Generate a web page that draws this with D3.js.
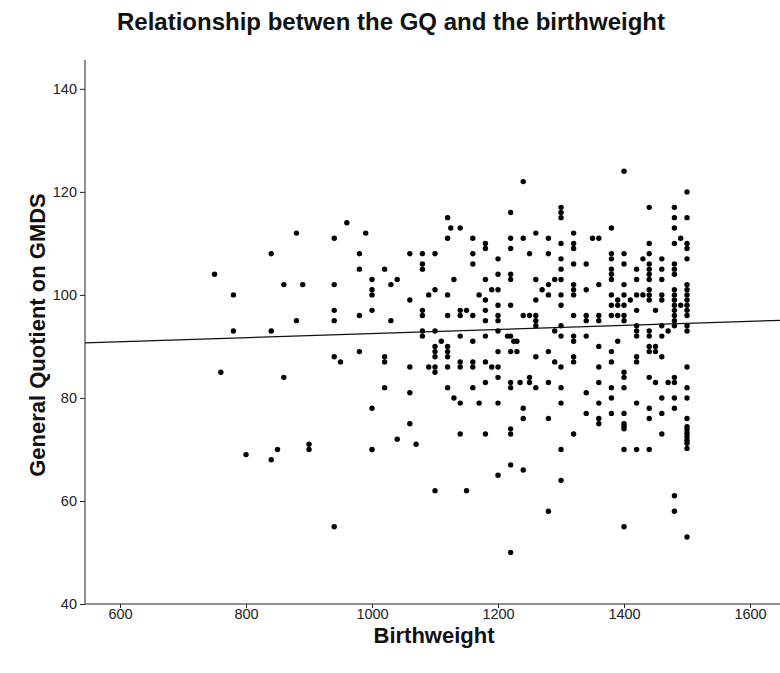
<!DOCTYPE html>
<html>
<head>
<meta charset="utf-8">
<script src="https://cdn.jsdelivr.net/npm/d3@7"></script>
<style>
  html, body { margin: 0; padding: 0; background: #fff; }
  svg { display: block; }
  text { font-family: Arial, "Liberation Sans", sans-serif; }
</style>
</head>
<body>
<svg id="chart" width="780" height="673"></svg>
<script>
// Birthweight (g) of each child
const birthweight = [
  880, 840, 750, 860, 890,
  780, 780, 840, 880, 760, 860,
  800, 840, 850, 900, 900,
  1060, 1040, 1070, 1000, 1100, 940,
  960, 990, 940, 1120, 1125, 1120, 980, 1060, 1080, 1100, 1080, 1080, 980, 1020,
  1000, 1040, 1030, 940, 1130,
  1000, 1000, 1060, 1090, 1100, 1120, 940, 940, 980, 1000, 1030, 1080, 1080, 1120,
  1080, 1080, 1100, 1110, 1100, 1100, 1100, 1120, 1120, 1120, 940, 950, 980, 1020,
  1020, 1060, 1090, 1100, 1100, 1120, 1020, 1060, 1120, 1130, 1000,
  1240, 1300, 1300, 1300, 1220, 1140, 1160, 1180, 1180, 1220, 1240, 1260, 1280, 1300,
  1320, 1320, 1320, 1160, 1220, 1250, 1280, 1160, 1200, 1300, 1300, 1320, 1200, 1220,
  1220, 1180, 1260, 1290, 1300, 1280, 1320, 1320, 1270,
  1170, 1180, 1190, 1200, 1200, 1220, 1260, 1280, 1300, 1320, 1140, 1140, 1150, 1160,
  1180, 1180, 1200, 1200, 1240, 1250, 1260, 1260, 1260, 1300, 1300, 1320, 1140, 1160,
  1180, 1200, 1215, 1220, 1225, 1230, 1290, 1300, 1320, 1320, 1200, 1220, 1230, 1260,
  1280, 1140, 1140, 1160, 1160, 1180, 1190, 1200, 1200, 1290, 1300, 1320, 1320, 1180,
  1220, 1220, 1235, 1250, 1250, 1280, 1260, 1160, 1300, 1140, 1170, 1200, 1240, 1240,
  1280, 1300,
  1220, 1220, 1140, 1180, 1320, 1300, 1220, 1240, 1200, 1300, 1150, 1280, 1220,
  1400, 1500, 1440, 1480, 1480, 1480, 1500, 1380, 1350, 1360, 1440, 1480, 1490, 1500,
  1500, 1380, 1380, 1400, 1440, 1430, 1460, 1500, 1340, 1400, 1440, 1440, 1380, 1380,
  1380, 1420, 1460, 1480, 1480, 1480, 1420, 1440, 1440, 1460, 1360, 1400, 1340, 1440,
  1480, 1500, 1500,
  1380, 1400, 1420, 1430, 1440, 1460, 1480, 1500, 1390, 1410, 1440, 1460, 1480, 1500,
  1380, 1390, 1400, 1480, 1490, 1500, 1420, 1450, 1480, 1500, 1380, 1390, 1400, 1480,
  1500, 1340, 1340, 1360, 1360, 1400, 1480, 1420, 1460, 1480, 1500, 1420, 1440, 1470,
  1500, 1340, 1420, 1440, 1460, 1390, 1360, 1440, 1450, 1380, 1440, 1450, 1420, 1460,
  1380, 1420, 1360, 1500, 1400, 1400, 1440, 1480, 1360, 1450, 1470, 1480, 1380, 1400,
  1500, 1340, 1380, 1460, 1480, 1500, 1360, 1420, 1440, 1480, 1340, 1380, 1400, 1460,
  1360, 1440, 1500,
  1360, 1400, 1400, 1400, 1460, 1500, 1500, 1500, 1500, 1500, 1500, 1500, 1400, 1420,
  1440, 1480, 1480, 1400, 1500
];

// General Quotient on GMDS for the same children, in the same order
const generalQuotient = [
  112, 108, 104, 102, 102,
  100, 93, 93, 95, 85, 84,
  69, 68, 70, 71, 70,
  75, 72, 71, 70, 62, 55,
  114, 112, 111, 115, 113, 111, 108, 108, 108, 108, 106, 105, 105, 105,
  103, 103, 102, 102, 103,
  101, 100, 99, 100, 101, 100, 97, 95, 96, 97, 95, 97, 96, 96,
  93, 92, 93, 91, 90, 89, 88, 90, 89, 88, 88, 87, 89, 88,
  87, 86, 86, 86, 85, 86, 82, 81, 82, 80, 78,
  122, 117, 116, 115, 116, 113, 111, 110, 109, 111, 111, 112, 111, 110,
  112, 110, 109, 108, 109, 108, 108, 106, 107, 107, 105, 106, 104, 104,
  103, 103, 103, 103, 103, 102, 102, 101, 101,
  100, 99, 101, 101, 98, 98, 99, 100, 100, 100, 97, 96, 97, 96,
  97, 95, 96, 95, 96, 96, 96, 95, 94, 98, 94, 96, 92, 91,
  92, 93, 92, 92, 91, 91, 93, 92, 92, 91, 89, 89, 89, 88,
  89, 87, 86, 87, 86, 87, 86, 86, 84, 87, 86, 88, 87, 83,
  83, 82, 83, 84, 83, 83, 82, 82, 82, 79, 79, 79, 78, 76,
  76, 79,
  74, 73, 73, 73, 73, 70, 67, 66, 65, 64, 62, 58, 50,
  124, 120, 117, 117, 115, 113, 115, 113, 111, 111, 110, 110, 111, 110,
  109, 108, 107, 108, 108, 107, 107, 107, 106, 106, 106, 105, 105, 104,
  103, 105, 105, 106, 105, 104, 103, 104, 103, 103, 102, 102, 101, 101,
  101, 102, 101,
  100, 100, 100, 100, 100, 100, 100, 100, 99, 99, 99, 99, 99, 99,
  98, 98, 98, 98, 98, 98, 97, 97, 97, 97, 96, 96, 96, 96,
  96, 96, 95, 96, 95, 95, 95, 94, 94, 94, 94, 93, 93, 93,
  93, 92, 92, 92, 92, 91, 90, 90, 90, 89, 89, 89, 88, 88,
  87, 87, 86, 86, 85, 84, 84, 84, 83, 83, 83, 83, 82, 82,
  82, 81, 80, 80, 80, 80, 79, 79, 78, 78, 77, 77, 77, 77,
  76, 76, 76,
  75, 75, 74.5, 74, 73, 74.4, 73.8, 73.1, 72.5, 71.8, 71.2, 70.2, 70, 70,
  70, 61, 58, 55, 53
];

// Axis ticks
const xTicks = [600, 800, 1000, 1200, 1400, 1600];
const yTicks = [40, 60, 80, 100, 120, 140];

// Linear fit line (GQ = intercept + slope * birthweight)
const fitIntercept = 88.55;
const fitSlope = 0.00395;

(function draw() {
  const svg = d3.select("#chart");
  const plotLeft = 85, plotRight = 780, plotTop = 60, plotBottom = 604;

  const x = d3.scaleLinear().domain([544.4, 1647.6]).range([plotLeft, plotRight]);
  const y = d3.scaleLinear().domain([40, 145.6]).range([plotBottom, plotTop]);

  // Title
  svg.append("text")
    .attr("x", 391).attr("y", 30)
    .attr("text-anchor", "middle")
    .attr("font-size", 24).attr("font-weight", "bold")
    .attr("fill", "#111")
    .text("Relationship betwen the GQ and the birthweight");

  // Axes
  const xAxis = svg.append("g")
    .attr("transform", `translate(0,${plotBottom})`)
    .call(d3.axisBottom(x).tickValues(xTicks).tickSize(4).tickPadding(1).tickFormat(d3.format("d")));
  const yAxis = svg.append("g")
    .attr("transform", `translate(${plotLeft},0)`)
    .call(d3.axisLeft(y).tickValues(yTicks).tickSize(5).tickPadding(3).tickFormat(d3.format("d")));

  [xAxis, yAxis].forEach(g => {
    g.select(".domain").attr("stroke", "#222").attr("stroke-width", 1);
    g.selectAll(".tick line").attr("stroke", "#222");
    g.selectAll(".tick text")
      .attr("font-size", 14.5)
      .attr("font-family", "Arial, 'Liberation Sans', sans-serif")
      .attr("fill", "#222");
  });
  // Plain axis lines without the outer end stubs
  yAxis.select(".domain").attr("d", `M0,${plotBottom}V${plotTop}`);
  xAxis.select(".domain").attr("d", `M${plotLeft},0H${plotRight}`);

  // Axis titles
  svg.append("text")
    .attr("x", 434).attr("y", 643)
    .attr("text-anchor", "middle")
    .attr("font-size", 22).attr("font-weight", "bold")
    .attr("fill", "#111")
    .text("Birthweight");

  svg.append("text")
    .attr("transform", "translate(45,335) rotate(-90)")
    .attr("text-anchor", "middle")
    .attr("font-size", 22).attr("font-weight", "bold")
    .attr("fill", "#111")
    .text("General Quotient on GMDS");

  // Points
  const points = birthweight.map((bw, i) => ({ bw, gq: generalQuotient[i] }));
  svg.append("g")
    .selectAll("circle")
    .data(points)
    .join("circle")
    .attr("cx", d => x(d.bw))
    .attr("cy", d => y(d.gq))
    .attr("r", 2.7)
    .attr("fill", "#000");

  // Fit line across the plotted range
  const xs = x.domain();
  svg.append("line")
    .attr("x1", x(xs[0])).attr("y1", y(fitIntercept + fitSlope * xs[0]))
    .attr("x2", x(xs[1])).attr("y2", y(fitIntercept + fitSlope * xs[1]))
    .attr("stroke", "#111").attr("stroke-width", 1.2);
})();
</script>
</body>
</html>
